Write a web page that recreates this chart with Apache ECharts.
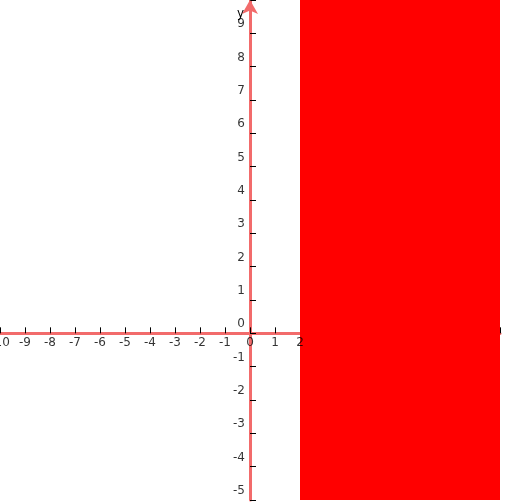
<!DOCTYPE html>
<html>
<head>
<meta charset="utf-8">
<script src="https://cdn.jsdelivr.net/npm/echarts@6/dist/echarts.min.js"></script>
<style>html,body{margin:0;padding:0;background:#fff}#c{width:508px;height:502px}</style>
</head>
<body>
<div id="c"></div>
<script>
// x > 2 shaded region
const xRange = [-10, 10];
const yRange = [-5, 10];
const shadeX = [2, 10];
const xTickLabels = [-10, -9, -8, -7, -6, -5, -4, -3, -2, -1, 0, 1, 2];
const yTickLabels = [-5, -4, -3, -2, -1, 0, 1, 2, 3, 4, 5, 6, 7, 8, 9];

const chart = echarts.init(document.getElementById('c'));
const axisColor = '#f26b6b';
const font = { fontFamily: 'DejaVu Sans', fontSize: 12, color: '#000' };

chart.setOption({
  animation: false,
  grid: { left: 0, right: 8, top: 0, bottom: 2, containLabel: false, outerBoundsMode: 'none' },
  xAxis: {
    type: 'value', min: xRange[0], max: xRange[1], interval: 1,
    splitLine: { show: false },
    axisLine: { onZero: true, lineStyle: { color: axisColor, width: 3 } },
    axisTick: { inside: true, length: 6, lineStyle: { color: '#000' } },
    axisLabel: { show: false }
  },
  yAxis: {
    type: 'value', min: yRange[0], max: yRange[1], interval: 1,
    name: 'y', nameGap: 2, nameLocation: 'end',
    nameTextStyle: Object.assign({ align: 'right', verticalAlign: 'top', padding: [10, 6, 0, 0] }, font),
    splitLine: { show: false },
    axisLine: { onZero: true, symbol: ['none', 'arrow'], symbolSize: [12, 14],
      lineStyle: { color: axisColor, width: 3 } },
    axisTick: { inside: true, length: 6, lineStyle: { color: '#000' } },
    axisLabel: { show: false }
  },
  series: [{
    type: 'line', data: [], silent: true, z: 3,
    markArea: {
      silent: true,
      itemStyle: { color: '#ff0000', opacity: 1 },
      data: [[{ xAxis: shadeX[0], yAxis: yRange[0] }, { xAxis: shadeX[1], yAxis: yRange[1] }]]
    }
  }, {
    type: 'scatter', silent: true, symbolSize: 0, z: 2,
    data: xTickLabels.map(v => [v, 0]),
    label: Object.assign({ show: true, position: 'bottom', distance: 4,
      formatter: p => String(p.value[0]) }, font)
  }, {
    type: 'scatter', silent: true, symbolSize: 0, z: 2,
    data: yTickLabels.map(v => [0, v]),
    label: Object.assign({ show: true, position: 'left', distance: 5, offset: [0, -9],
      formatter: p => String(p.value[1]) }, font)
  }]
});
</script>
</body>
</html>
